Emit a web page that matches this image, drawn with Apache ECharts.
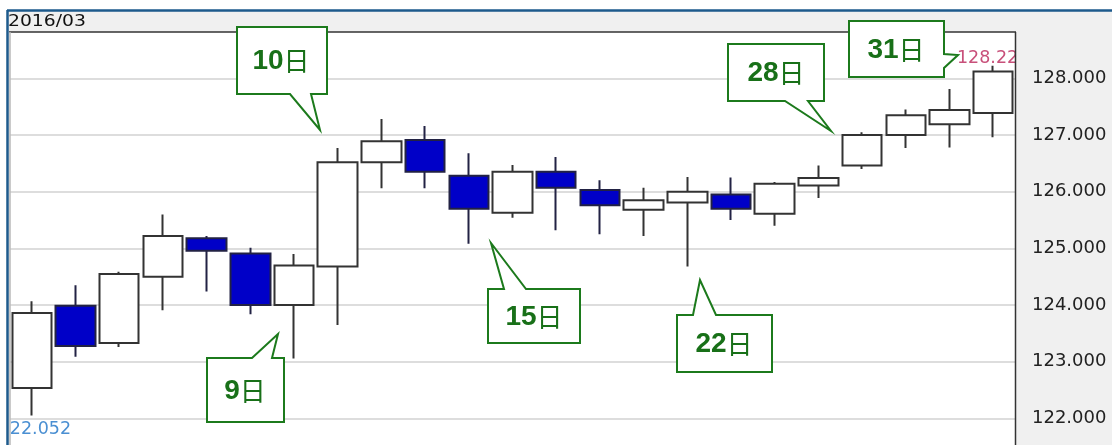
<!DOCTYPE html>
<html>
<head>
<meta charset="utf-8">
<script src="https://cdn.jsdelivr.net/npm/echarts@6/dist/echarts.min.js"></script>
<style>html,body{margin:0;padding:0;background:#fff;}#c{width:1112px;height:445px;}</style>
</head>
<body>
<div id="c"></div>
<script>
// Dates (March 2016 trading days)
const categories = ['3/1','3/2','3/3','3/4','3/7','3/8','3/9','3/10','3/11','3/14','3/15','3/16','3/17','3/18','3/21','3/22','3/23','3/24','3/25','3/28','3/29','3/30','3/31'];
// OHLC values
const opens  = [122.54,123.99,123.33,124.50,125.18,124.91,124.00,124.68,126.52,126.91,126.28,125.63,126.35,126.03,125.68,125.81,125.95,125.61,126.11,126.46,127.00,127.19,127.39];
const closes = [123.86,123.28,124.55,125.22,124.96,124.00,124.70,126.52,126.89,126.35,125.70,126.35,126.07,125.76,125.85,126.00,125.70,126.14,126.24,127.00,127.35,127.44,128.12];
const lows   = [122.052,123.09,123.26,123.91,124.24,123.84,123.06,123.65,126.06,126.06,125.08,125.54,125.32,125.25,125.22,124.68,125.50,125.40,125.89,126.40,126.77,126.78,126.96];
const highs  = [124.07,124.35,124.59,125.60,125.22,125.01,124.90,126.77,127.28,127.16,126.68,126.47,126.61,126.20,126.07,126.26,126.25,126.17,126.46,127.05,127.45,127.81,128.223];
// Axis ticks
const yMin = 121, yMax = 129, yStep = 1;
const monthLabel = '2016/03';
// Callouts: day label and candle index
const callouts = [
  {text: '10', idx: 7},
  {text: '9', idx: 6},
  {text: '15', idx: 10},
  {text: '22', idx: 15},
  {text: '28', idx: 19},
  {text: '31', idx: 22}
];

const ohlc = categories.map((c, i) => [opens[i], closes[i], lows[i], highs[i]]);
let maxI = 0, minI = 0;
highs.forEach((v, i) => { if (v > highs[maxI]) maxI = i; });
lows.forEach((v, i) => { if (v < lows[minI]) minI = i; });

const green = '#1c7a1c';
const txtGreen = '#187018';
// callout shapes (box + tail) in pixels
const calloutShapes = [
  {pts: [[237,27],[327,27],[327,94],[311,94],[320,130],[290,94],[237,94]], cx: 281, cy: 61},
  {pts: [[207,358],[252,358],[278,334],[272,358],[284,358],[284,422],[207,422]], cx: 245, cy: 391},
  {pts: [[488,289],[504,289],[491,243],[526,289],[580,289],[580,343],[488,343]], cx: 534, cy: 317},
  {pts: [[677,315],[693,315],[700,280],[716,315],[772,315],[772,372],[677,372]], cx: 724, cy: 344},
  {pts: [[728,44],[824,44],[824,101],[808,101],[831,131],[785,101],[728,101]], cx: 776, cy: 73},
  {pts: [[849,21],[944,21],[944,54],[958,55],[944,68],[944,77],[849,77]], cx: 896, cy: 50}
];

const graphics = [
  {type:'rect', z:-20, shape:{x:8,y:10,width:1104,height:435}, style:{fill:'#f0f0f0'}, silent:true},
  {type:'rect', z:-10, shape:{x:10,y:32,width:1005,height:413}, style:{fill:'#ffffff'}, silent:true},
  // header strip (covers grid above plot top)
  {type:'rect', z:7, shape:{x:8,y:10,width:1104,height:22}, style:{fill:'#f0f0f0'}, silent:true},
  // axis area cover (clips labels overflowing right)
  {type:'rect', z:7, shape:{x:1016,y:32,width:96,height:413}, style:{fill:'#f0f0f0'}, silent:true},
  // left margin cover (clips labels overflowing left)
  {type:'rect', z:7, shape:{x:0,y:10,width:7,height:435}, style:{fill:'#ffffff'}, silent:true},
  {type:'rect', z:7, shape:{x:7,y:32,width:3,height:413}, style:{fill:'#f0f0f0'}, silent:true},
  // frame lines
  {type:'line', z:8, shape:{x1:7,y1:10.5,x2:1112,y2:10.5}, style:{stroke:'#1d5a8c', lineWidth:2.5}, silent:true},
  {type:'line', z:8, shape:{x1:7.5,y1:10,x2:7.5,y2:445}, style:{stroke:'#1d5a8c', lineWidth:2.5}, silent:true},
  {type:'line', z:8, shape:{x1:9,y1:32,x2:1016,y2:32}, style:{stroke:'#333', lineWidth:1.5}, silent:true},
  {type:'line', z:8, shape:{x1:1015.5,y1:32,x2:1015.5,y2:445}, style:{stroke:'#333', lineWidth:1.5}, silent:true},
  {type:'line', z:8, shape:{x1:10,y1:32,x2:10,y2:445}, style:{stroke:'#b8b8b8', lineWidth:1.5}, silent:true},
  // month label
  {type:'text', z:9, x:8, y:22, scaleX:1.25, style:{text:monthLabel, x:0, y:0, verticalAlign:'middle', fill:'#111', font:'15px "DejaVu Sans"'}, silent:true}
];
calloutShapes.forEach((s, k) => {
  graphics.push({type:'polygon', z:10, shape:{points:s.pts}, style:{fill:'#fff', stroke:green, lineWidth:2}, silent:true});
  graphics.push({type:'text', z:11, x:s.cx, y:s.cy, style:{
    text:'{b|' + callouts[k].text + '}{n|日}', align:'center', verticalAlign:'middle',
    rich:{
      b:{fontSize:28, fontWeight:'bold', fontFamily:'"Liberation Sans", Arial', fill:txtGreen},
      n:{fontSize:26, fontWeight:'normal', fontFamily:'"Noto Sans CJK JP"', fill:txtGreen}
    }
  }, silent:true});
});

const chart = echarts.init(document.getElementById('c'), null, {renderer:'canvas'});
chart.setOption({
  animation:false,
  backgroundColor:'#ffffff',
  grid:{left:10, top:21.6, width:1005, height:453.6, containLabel:false, outerBoundsMode:'none'},
  xAxis:{type:'category', data:categories, boundaryGap:true, axisLine:{show:false}, axisTick:{show:false}, axisLabel:{show:false}, splitLine:{show:false}},
  yAxis:[
    {type:'value', min:yMin, max:yMax, interval:yStep, position:'right', axisLine:{show:false}, axisTick:{show:false}, axisLabel:{show:false},
      splitLine:{show:true, lineStyle:{color:'#d2d2d2', width:1.5}}},
    {type:'value', min:yMin, max:yMax, interval:yStep, position:'right', z:12, axisLine:{show:false}, axisTick:{show:false}, splitLine:{show:false},
      axisLabel:{show:true, margin:17, align:'left', color:'#222', fontSize:18, fontFamily:'"DejaVu Sans"',
        formatter: v => (v <= yMin || v >= yMax) ? '' : v.toFixed(3)}}
  ],
  graphic:{elements:graphics},
  series:[{
    type:'candlestick',
    data:ohlc,
    yAxisIndex:0,
    barWidth:40,
    barMaxWidth:60,
    itemStyle:{color:'#ffffff', color0:'#0000c8', borderColor:'#333333', borderColor0:'#222244', borderWidth:2},
    markPoint:{
      z:3,
      symbol:'rect', symbolSize:1, itemStyle:{color:'rgba(0,0,0,0)'},
      data:[
        {coord:[maxI, highs[maxI]], value:highs[maxI], label:{show:true, position:'inside', offset:[0,-7], color:'#c8507a', fontSize:17.5, fontFamily:'"DejaVu Sans"', formatter: p => p.value.toFixed(3)}},
        {coord:[minI, lows[minI]], value:lows[minI], label:{show:true, position:'inside', offset:[3,14], color:'#4a8fd2', fontSize:17.5, fontFamily:'"DejaVu Sans"', formatter: p => p.value.toFixed(3)}}
      ]
    }
  }]
});
</script>
</body>
</html>
